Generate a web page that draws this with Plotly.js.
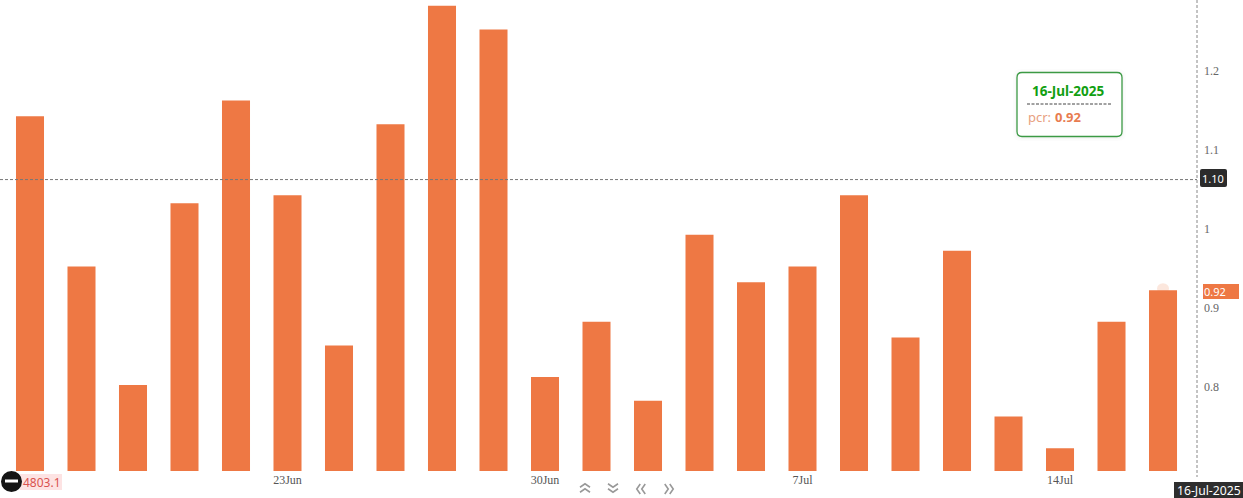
<!DOCTYPE html>
<html>
<head>
<meta charset="utf-8">
<script src="https://cdn.plot.ly/plotly-3.0.1.min.js"></script>
<style>html,body{margin:0;padding:0;background:#fff;overflow:hidden}#chart{width:1243px;height:498px}</style>
</head>
<body>
<div id="chart"></div>
<script>
const dates = ["16-Jun","17-Jun","18-Jun","19-Jun","20-Jun","23-Jun","24-Jun","25-Jun","26-Jun","27-Jun","30-Jun","1-Jul","2-Jul","3-Jul","4-Jul","7-Jul","8-Jul","9-Jul","10-Jul","11-Jul","14-Jul","15-Jul","16-Jul"];
const pcr = [1.14,0.95,0.80,1.03,1.16,1.04,0.85,1.13,1.28,1.25,0.81,0.88,0.78,0.99,0.93,0.95,1.04,0.86,0.97,0.76,0.72,0.88,0.92];
const xTickVals = ["23-Jun","30-Jun","7-Jul","14-Jul"];
const xTickText = ["23Jun","30Jun","7Jul","14Jul"];
const yTickVals = [0.8,0.9,1.0,1.1,1.2];
const yTickText = ["0.8","0.9","1","1.1","1.2"];
const crosshairY = 1.06;
const crosshairLabel = "1.10";
const lastValue = 0.92;

const W = 1197, H = 471;
const BAR = "#EE7844";
const px = v => v / W, py = v => 1 - v / H;
const sans = "Noto Sans, Open Sans, sans-serif";

function roundRect(x0, y0, x1, y1, r) {
  return `M${px(x0 + r)},${py(y0)} L${px(x1 - r)},${py(y0)} Q${px(x1)},${py(y0)} ${px(x1)},${py(y0 + r)} ` +
    `L${px(x1)},${py(y1 - r)} Q${px(x1)},${py(y1)} ${px(x1 - r)},${py(y1)} L${px(x0 + r)},${py(y1)} ` +
    `Q${px(x0)},${py(y1)} ${px(x0)},${py(y1 - r)} L${px(x0)},${py(y0 + r)} Q${px(x0)},${py(y0)} ${px(x0 + r)},${py(y0)} Z`;
}
const paper = {xref: "paper", yref: "paper"};
function pathShape(path, line, fill, extra) {
  return Object.assign({type: "path", path, line, fillcolor: fill || "rgba(0,0,0,0)", layer: "above"}, paper, extra || {});
}
function chevrons(cx, cy, dir) {
  const a = 5, b = 3.5, gap = 5;
  const seg = off => {
    const pts = dir === "up" ? [[-a, b / 2 + off], [0, -b / 2 + off], [a, b / 2 + off]]
      : dir === "down" ? [[-a, -b / 2 + off], [0, b / 2 + off], [a, -b / 2 + off]]
      : dir === "left" ? [[b / 2 + off, -a], [-b / 2 + off, 0], [b / 2 + off, a]]
      : [[-b / 2 + off, -a], [b / 2 + off, 0], [-b / 2 + off, a]];
    return pts.map((p, i) => (i ? "L" : "M") + px(cx + p[0]) + "," + py(cy + p[1])).join(" ");
  };
  return pathShape(seg(-gap / 2) + " " + seg(gap / 2), {color: "#999", width: 1.6});
}
function label(text, x, y, opts) {
  return Object.assign({text, x: px(x), y: py(y), xanchor: "center", yanchor: "middle", showarrow: false,
    xref: "paper", yref: "paper", font: {family: sans, size: 12, color: "#333"}}, opts || {});
}
function rectShape(x0, y0, x1, y1, fill) {
  return Object.assign({type: "rect", x0: px(x0), x1: px(x1), y0: py(y0), y1: py(y1), fillcolor: fill, line: {width: 0}, layer: "above"}, paper);
}

const shapes = [
  {type: "line", xref: "paper", yref: "y", x0: 0, x1: 1, y0: crosshairY, y1: crosshairY, line: {color: "#777", width: 1, dash: "3px,2px"}, layer: "above"},
  Object.assign({type: "line", x0: 1, x1: 1, y0: py(0), y1: py(477), line: {color: "#888", width: 1, dash: "3px,2px"}, layer: "above"}, paper),
  // pulse on last bar
  {type: "circle", xref: "x", yref: "y", xsizemode: "pixel", ysizemode: "pixel", xanchor: "16-Jul", yanchor: lastValue,
   x0: -6, x1: 6, y0: -4, y1: 7, fillcolor: "rgba(239,122,69,0.18)", line: {width: 0}, layer: "below"},
  // tooltip shadow + box
  pathShape(roundRect(1013, 69, 1126, 141, 8), {width: 0}, "rgba(0,0,0,0.012)"),
  pathShape(roundRect(1015, 71, 1124, 139, 7), {width: 0}, "rgba(0,0,0,0.02)"),
  pathShape(roundRect(1017, 72.5, 1122, 136.5, 5), {color: "#3C9A45", width: 1.3}, "#fff"),
  Object.assign({type: "line", x0: px(1027), x1: px(1111), y0: py(104), y1: py(104), line: {color: "#444", width: 1, dash: "3px,1.5px"}, layer: "above"}, paper),
  // axis tags
  pathShape(roundRect(1200, 169, 1227, 187, 2), {width: 0}, "#2b2b2b"),
  rectShape(1203, 284, 1239, 299, BAR),
  rectShape(1174, 482, 1243, 498, "#2e2e2e"),
  // bottom-left control
  rectShape(20, 474, 62, 490, "#FDE3E3"),
  Object.assign({type: "circle", x0: px(1), x1: px(22), y0: py(471), y1: py(492), fillcolor: "#151515", line: {width: 0}, layer: "above"}, paper),
  rectShape(5, 479.5, 18, 482.5, "#fff"),
  // nav chevrons
  chevrons(585, 488, "up"),
  chevrons(613, 488, "down"),
  chevrons(641, 489, "left"),
  chevrons(669, 489, "right")
];

const annotations = [
  label("<b>16-Jul-2025</b>", 1068, 91, {font: {family: sans, size: 13.5, color: "#12A012"}}),
  label("pcr:", 1039, 117, {font: {family: sans, size: 13, color: "#E8A080"}}),
  label("<b>0.92</b>", 1068, 117, {font: {family: sans, size: 13, color: "#E87C50"}}),
  label(crosshairLabel, 1213, 178, {font: {family: sans, size: 11, color: "#fff"}}),
  label(String(lastValue), 1215, 291.5, {font: {family: sans, size: 11, color: "#fff"}}),
  label("16-Jul-2025", 1209, 490, {font: {family: sans, size: 12.2, color: "#fff"}}),
  label("4803.1", 42, 482, {font: {family: sans, size: 12, color: "#D9534F"}})
];

Plotly.newPlot("chart", [{
  type: "bar",
  x: dates,
  y: pcr,
  width: 0.544,
  marker: {color: BAR, line: {width: 0}},
  hoverinfo: "skip"
}], {
  width: 1243,
  height: 498,
  margin: {l: 0, r: 46, t: 0, b: 27, pad: 0},
  paper_bgcolor: "#fff",
  plot_bgcolor: "#fff",
  showlegend: false,
  bargap: 0.456,
  xaxis: {
    type: "category",
    categoryorder: "array",
    categoryarray: dates,
    range: [-0.5825, 22.66],
    tickmode: "array",
    tickvals: xTickVals,
    ticktext: xTickText,
    ticks: "",
    showgrid: false,
    zeroline: false,
    showline: false,
    tickangle: 0,
    tickfont: {family: "Liberation Serif, serif", size: 12, color: "#555"}
  },
  yaxis: {
    side: "right",
    range: [0.6911, 1.2873],
    tickmode: "array",
    tickvals: yTickVals,
    ticktext: yTickText,
    ticks: "",
    showgrid: false,
    zeroline: false,
    showline: false,
    ticklabelstandoff: 6,
    ticklabelshift: 2,
    tickfont: {family: "Liberation Serif, serif", size: 12, color: "#666"}
  },
  shapes,
  annotations
}, {displayModeBar: false, staticPlot: true});
</script>
</body>
</html>
